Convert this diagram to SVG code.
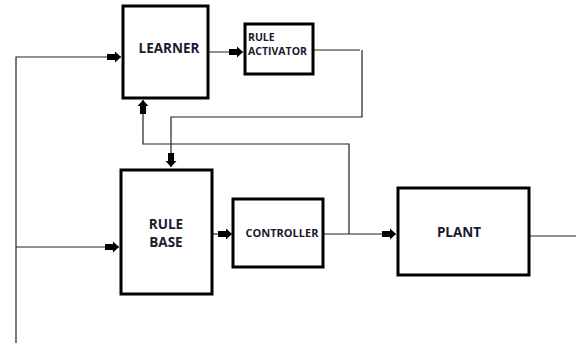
<svg xmlns="http://www.w3.org/2000/svg" width="576" height="343" viewBox="0 0 576 343">
<style>
.box{fill:#fff;stroke:#000;stroke-width:3}
.ln{fill:none;stroke:#222;stroke-width:1.2}
.t{font-family:"Open Sans","Liberation Sans",sans-serif;font-weight:bold;fill:#1a1a2e}
</style>
<defs>
<marker id="ah" markerUnits="userSpaceOnUse" markerWidth="16" markerHeight="12" refX="14" refY="6" orient="auto" overflow="visible">
<path d="M0,3 H8 V0.5 L14,6 L8,11.5 V9 H0 Z" fill="#000"/>
</marker>
</defs>
<rect width="576" height="343" fill="#fff"/>
<g id="connectors">
<polyline class="ln" points="16,343 16,57 121,57" marker-end="url(#ah)"/>
<line class="ln" x1="16" y1="247" x2="119" y2="247" marker-end="url(#ah)"/>
<line class="ln" x1="208" y1="52" x2="243" y2="52" marker-end="url(#ah)"/>
<line class="ln" x1="313" y1="50" x2="360" y2="50"/>
<polyline class="ln" points="362,50 362,117 171,117 171,167" marker-end="url(#ah)"/>
<line class="ln" x1="212" y1="234" x2="232" y2="234" marker-end="url(#ah)"/>
<line class="ln" x1="323" y1="234" x2="396" y2="234" marker-end="url(#ah)"/>
<polyline class="ln" points="349,234 349,144 143,144 143,100" marker-end="url(#ah)"/>
<line class="ln" x1="529" y1="236" x2="576" y2="236"/>
</g>
<g id="learner">
<rect class="box" x="123" y="6" width="85" height="92"/>
<text class="t" x="169" y="53" font-size="13.5" text-anchor="middle">LEARNER</text>
</g>
<g id="rule-activator">
<rect class="box" x="245" y="24" width="68" height="50"/>
<text class="t" x="248" y="41" font-size="10.5">RULE</text>
<text class="t" x="248" y="55" font-size="10.5">ACTIVATOR</text>
</g>
<g id="rule-base">
<rect class="box" x="121" y="170" width="91" height="124"/>
<text class="t" x="166" y="229" font-size="13.5" text-anchor="middle">RULE</text>
<text class="t" x="166" y="247" font-size="13.5" text-anchor="middle">BASE</text>
</g>
<g id="controller">
<rect class="box" x="233" y="199" width="90" height="68"/>
<text class="t" x="282" y="237" font-size="11" text-anchor="middle">CONTROLLER</text>
</g>
<g id="plant">
<rect class="box" x="398" y="188" width="131" height="87"/>
<text class="t" x="459" y="237" font-size="13.5" text-anchor="middle">PLANT</text>
</g>
</svg>
